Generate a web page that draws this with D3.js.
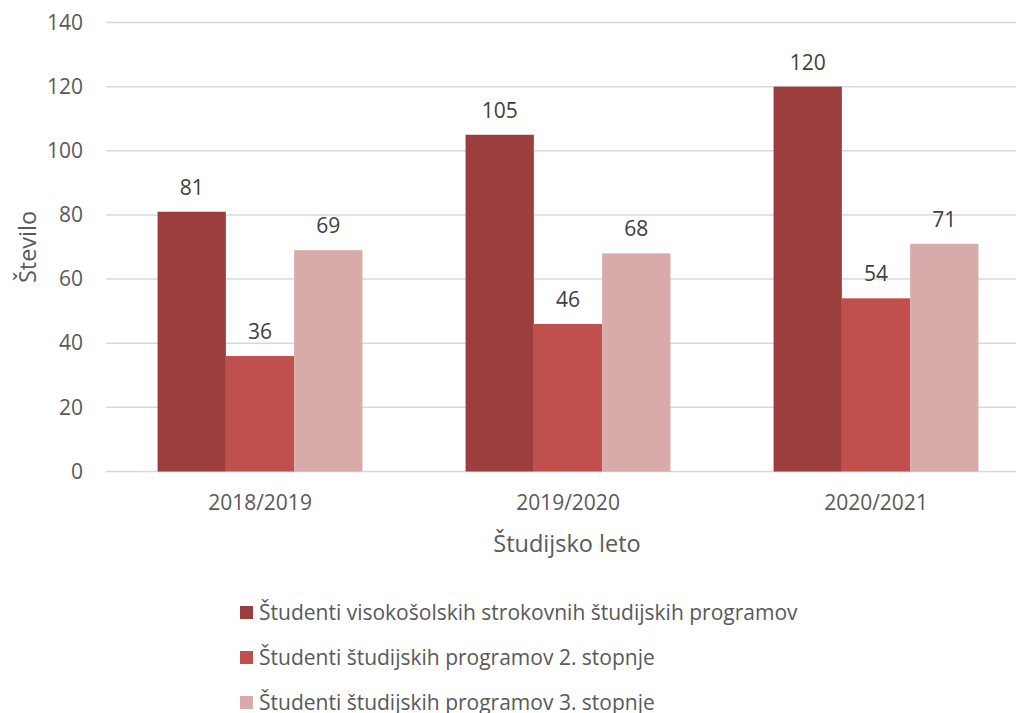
<!DOCTYPE html>
<meta charset="utf-8">
<style>
  body { margin: 0; background: #fff; }
  svg text { font-family: "Open Sans", "Noto Sans", sans-serif; }
  .grid line { stroke: #d9d9d9; stroke-width: 1.5; }
  .tick text { fill: #595959; font-size: 21px; }
  .lbl { fill: #404040; font-size: 21px; }
  .title { fill: #595959; font-size: 23.5px; }
  .leg text { fill: #595959; font-size: 21px; }
</style>
<body>
<script src="https://d3js.org/d3.v7.min.js"></script>
<script>

var years = ["2018/2019", "2019/2020", "2020/2021"];
var seriesNames = [
  "Študenti visokošolskih strokovnih študijskih programov",
  "Študenti študijskih programov 2. stopnje",
  "Študenti študijskih programov 3. stopnje"
];
var visokosolski = [81, 105, 120];
var druga = [36, 46, 54];
var tretja = [69, 68, 71];
var yTicks = [0, 20, 40, 60, 80, 100, 120, 140];
var colors = ["#9c3e3d", "#c0504d", "#d9aaaa"];

var series = [visokosolski, druga, tretja];

var width = 1016, height = 713;

var svg = d3.select("body")
  .append("svg")
  .attr("width", width)
  .attr("height", height);

// plot area runs a bit past the right edge, like the original
var x0 = d3.scaleBand()
  .domain(years)
  .range([106, 1030]);

var x1 = d3.scaleBand()
  .domain([0, 1, 2])
  .range([0, x0.bandwidth()])
  .paddingInner(0)
  .paddingOuter(0.755);

var y = d3.scaleLinear()
  .domain([0, 140])
  .range([471.5, 22.5]);

// gridlines
svg.append("g")
  .attr("class", "grid")
  .selectAll("line")
  .data(yTicks)
  .enter().append("line")
  .attr("x1", 106)
  .attr("x2", 1030)
  .attr("y1", function(d) { return y(d); })
  .attr("y2", function(d) { return y(d); });

// y axis labels
var yAxis = d3.axisLeft(y).tickValues(yTicks).tickSize(0).tickPadding(23);
svg.append("g")
  .attr("transform", "translate(106,0)")
  .call(yAxis)
  .call(function(g) { g.select(".domain").remove(); });

// bars
var groups = svg.append("g")
  .selectAll("g")
  .data(years)
  .enter().append("g")
  .attr("transform", function(d) { return "translate(" + x0(d) + ",0)"; });

groups.selectAll("rect")
  .data(function(d, i) { return series.map(function(s, k) { return {k: k, v: s[i]}; }); })
  .enter().append("rect")
  .attr("x", function(d) { return x1(d.k); })
  .attr("width", x1.bandwidth())
  .attr("y", function(d) { return y(d.v); })
  .attr("height", function(d) { return y(0) - y(d.v); })
  .attr("fill", function(d) { return colors[d.k]; });

groups.selectAll("text")
  .data(function(d, i) { return series.map(function(s, k) { return {k: k, v: s[i]}; }); })
  .enter().append("text")
  .attr("class", "lbl")
  .attr("text-anchor", "middle")
  .attr("x", function(d) { return x1(d.k) + x1.bandwidth() / 2; })
  .attr("y", function(d) { return y(d.v) - 17; })
  .text(function(d) { return d.v; });

// x axis labels
var xAxis = d3.axisBottom(x0).tickSize(0).tickPadding(24);
svg.append("g")
  .attr("transform", "translate(0," + y(0) + ")")
  .call(xAxis)
  .call(function(g) { g.select(".domain").remove(); });

// axis titles
svg.append("text")
  .attr("class", "title")
  .attr("text-anchor", "middle")
  .attr("x", 567)
  .attr("y", 552)
  .text("Študijsko leto");

svg.append("text")
  .attr("class", "title")
  .attr("text-anchor", "middle")
  .attr("transform", "translate(36,247) rotate(-90)")
  .text("Število");

// legend (last row is cut by the bottom edge in the original too)
var leg = svg.append("g")
  .attr("class", "leg")
  .selectAll("g")
  .data(seriesNames)
  .enter().append("g")
  .attr("transform", function(d, i) { return "translate(240," + (612.5 + i * 45) + ")"; });

leg.append("rect")
  .attr("x", 0)
  .attr("y", -6.5)
  .attr("width", 13)
  .attr("height", 13)
  .attr("fill", function(d, i) { return colors[i]; });

leg.append("text")
  .attr("x", 19)
  .attr("y", 7)
  .text(function(d) { return d; });

</script>
</body>
</html>
